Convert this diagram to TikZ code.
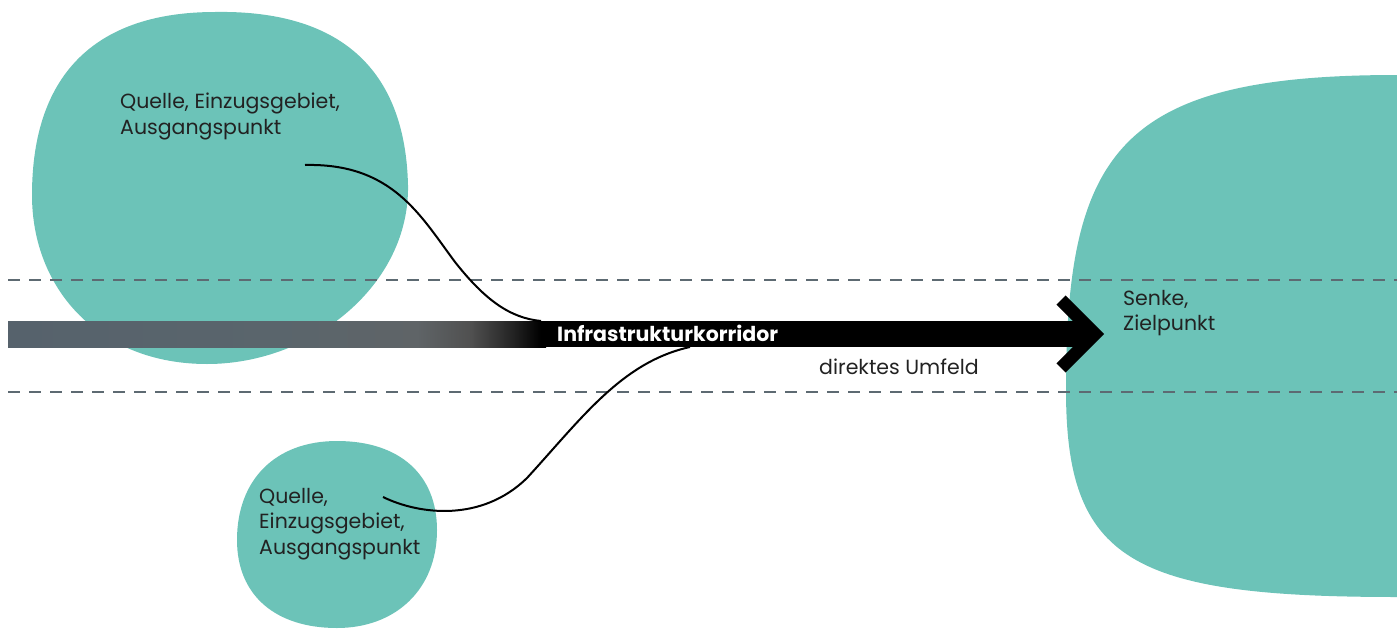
\documentclass[tikz,border=0pt]{standalone}
\usepackage{fontspec}
\setmainfont{Poppins}
\definecolor{blob}{HTML}{6CC3B8}
\definecolor{dashgray}{HTML}{5D6A72}
\definecolor{txt}{HTML}{222222}
\definecolor{barA}{HTML}{56626C}
\definecolor{barB}{HTML}{5A656C}
\definecolor{barC}{HTML}{5F6467}
\definecolor{barD}{HTML}{505050}
\definecolor{barE}{HTML}{222222}
\pgfdeclarehorizontalshading{barshade}{100bp}{color(0bp)=(barA); color(25bp)=(barA); color(50bp)=(barB); color(63bp)=(barC); color(68bp)=(barD); color(72bp)=(barE); color(74.5bp)=(black); color(100bp)=(black)}
\begin{document}
\begin{tikzpicture}[x=1pt,y=-1pt,
  lbl/.style={font=\fontsize{20.5}{25.5}\selectfont, text=txt, inner sep=0pt, align=left, anchor=north west},
  blobfill/.style={fill=blob, draw=none},
  dashline/.style={draw=dashgray, line width=2pt, dash pattern=on 12pt off 9pt},
  link/.style={draw=black, line width=2pt}]
\useasboundingbox (0,0) rectangle (1397,629);
\clip (0,0) rectangle (1397,629);
% blobs
\fill[blobfill] (215,12) .. controls (330,10) and (405,60) .. (408,185)
  .. controls (410,285) and (312,364) .. (207,364)
  .. controls (100,364) and (32,290) .. (32,195)
  .. controls (32,70) and (100,12) .. (215,12) -- cycle;
\fill[blobfill] (337,441) .. controls (400,441) and (437,475) .. (437,530)
  .. controls (437,590) and (395,628) .. (337,628)
  .. controls (275,628) and (237,595) .. (237,540)
  .. controls (237,480) and (275,441) .. (337,441) -- cycle;
\fill[blobfill] (1066,390) .. controls (1066,150) and (1120,75) .. (1397,75)
  -- (1450,75) -- (1450,597) -- (1397,597)
  .. controls (1130,597) and (1066,560) .. (1066,390) -- cycle;
% dashed lines
\coordinate (d1a) at (8,280); \coordinate (d1b) at (1397,280);
\coordinate (d2a) at (8,392); \coordinate (d2b) at (1397,392);
\draw[dashline] (d1a) -- (d1b);
\draw[dashline] (d2a) -- (d2b);
% bar
\shade[shading=barshade] (8,321) rectangle (546,347);
\fill[black] (545,321) rectangle (1088,347);
\draw[black, line width=13pt, miter limit=10] (1061,300) -- (1095,334) -- (1061,368);
% labels
\node[lbl] (q1) at (120,93) {Quelle, Einzugsgebiet,\\Ausgangspunkt};
\node[lbl] (q2) at (259,488) {Quelle,\\Einzugsgebiet,\\Ausgangspunkt};
\node[lbl] (sz) at (1123,290) {Senke,\\Zielpunkt};
\node[font=\fontsize{20.5}{25}\selectfont\bfseries, text=white, inner sep=0pt, anchor=west] (ik) at (557,333) {Infrastrukturkorridor};
\node[font=\fontsize{20.5}{25}\selectfont, text=txt, inner sep=0pt, anchor=west] (du) at (819,367) {direktes Umfeld};
% curves
\coordinate (s1) at (305,165);
\coordinate (e1) at (541,321);
\coordinate (s2) at (383,497);
\coordinate (e2) at (690,347);
\draw[link] (s1) .. controls (392,163) and (420,215) .. (455,262) .. controls (485,300) and (510,318) .. (e1);
\draw[link] (s2) .. controls (420,515) and (482,522) .. (527,478) .. controls (582,418) and (622,362) .. (e2);
\end{tikzpicture}
\end{document}
